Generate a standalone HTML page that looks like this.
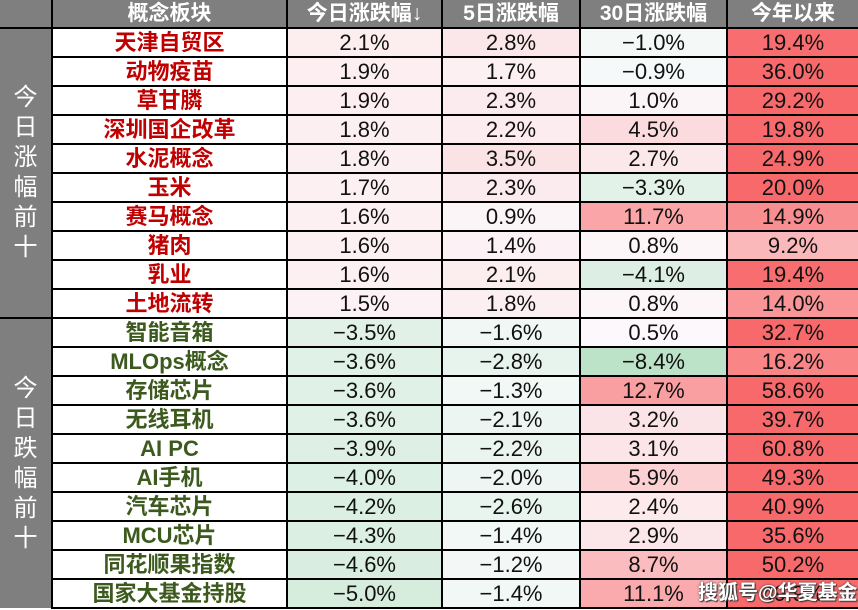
<!DOCTYPE html>
<html><head><meta charset="utf-8">
<style>
body{margin:0;width:858px;height:610px;overflow:hidden;background:#fff;position:relative}
table{border-collapse:collapse;table-layout:fixed;position:absolute;left:0;top:0}
td{border:2px solid #000;height:27px;padding:0;text-align:center;font-family:"Liberation Sans","Noto Sans CJK SC",sans-serif;font-size:22px;color:#111;line-height:25px;white-space:nowrap;overflow:hidden}
td.h{background:#7f7f7f;color:#fff;font-weight:bold;font-size:21px}
td.side{background:#7f7f7f;color:#fff;font-size:24px;line-height:30px;border-top:1px solid #bbb;border-left:none}
td.n{font-weight:bold;font-size:22px}
.r{color:#c00000}.g{color:#3d5a1e}
.wm{position:absolute;left:698px;top:576px;color:#fff;font-weight:bold;font-size:20px;font-family:"Liberation Sans","Noto Sans CJK SC",sans-serif;text-shadow:0 0 2px #333,1px 1px 1px #333}
</style></head><body>
<table id="t">
<colgroup><col style="width:52px"><col style="width:235px"><col style="width:155px"><col style="width:138px"><col style="width:147px"><col style="width:131px"></colgroup>
</table>
<div class="wm">搜狐号@华夏基金</div>
<script>
var d=[
["天津自贸区",2.1,2.8,-1.0,19.4],["动物疫苗",1.9,1.7,-0.9,36.0],["草甘膦",1.9,2.3,1.0,29.2],["深圳国企改革",1.8,2.2,4.5,19.8],["水泥概念",1.8,3.5,2.7,24.9],["玉米",1.7,2.3,-3.3,20.0],["赛马概念",1.6,0.9,11.7,14.9],["猪肉",1.6,1.4,0.8,9.2],["乳业",1.6,2.1,-4.1,19.4],["土地流转",1.5,1.8,0.8,14.0],
["智能音箱",-3.5,-1.6,0.5,32.7],["MLOps概念",-3.6,-2.8,-8.4,16.2],["存储芯片",-3.6,-1.3,12.7,58.6],["无线耳机",-3.6,-2.1,3.2,39.7],["AI PC",-3.9,-2.2,3.1,60.8],["AI手机",-4.0,-2.0,5.9,49.3],["汽车芯片",-4.2,-2.6,2.4,40.9],["MCU芯片",-4.3,-1.4,2.9,35.6],["同花顺果指数",-4.6,-1.2,8.7,50.2],["国家大基金持股",-5.0,-1.4,11.1,49.9]];
function mix(a,b,f){f=Math.max(0,Math.min(1,f));return "rgb("+a.map(function(x,i){return Math.round(x+(b[i]-x)*f)}).join(",")+")"}
function col(v){var w=[252,252,255];return v>=0?mix(w,[248,105,107],v/20):mix(w,[99,190,123],-v/20)}
function fmt(v){return (v<0?"\u2212":"")+Math.abs(v).toFixed(1)+"%"}
var h='<tr><td class="h" style="border-left:none;border-top:none"></td><td class="h" style="border-top:none">概念板块</td><td class="h" style="border-top:none">今日涨跌幅↓</td><td class="h" style="border-top:none">5日涨跌幅</td><td class="h" style="border-top:none">30日涨跌幅</td><td class="h" style="border-top:none;border-right:none">今年以来</td></tr>';
d.forEach(function(r,i){
 h+='<tr>';
 if(i==0)h+='<td class="side" rowspan="10">今<br>日<br>涨<br>幅<br>前<br>十</td>';
 if(i==10)h+='<td class="side" rowspan="10" style="border-bottom:none">今<br>日<br>跌<br>幅<br>前<br>十</td>';
 h+='<td class="n '+(i<10?'r':'g')+'">'+r[0]+'</td>';
 for(var k=1;k<5;k++)h+='<td style="background:'+col(r[k])+(k==4?';border-right:none':'')+'">'+fmt(r[k])+'</td>';
 h+='</tr>';
});
document.getElementById('t').innerHTML+=h;
</script>
</body></html>
